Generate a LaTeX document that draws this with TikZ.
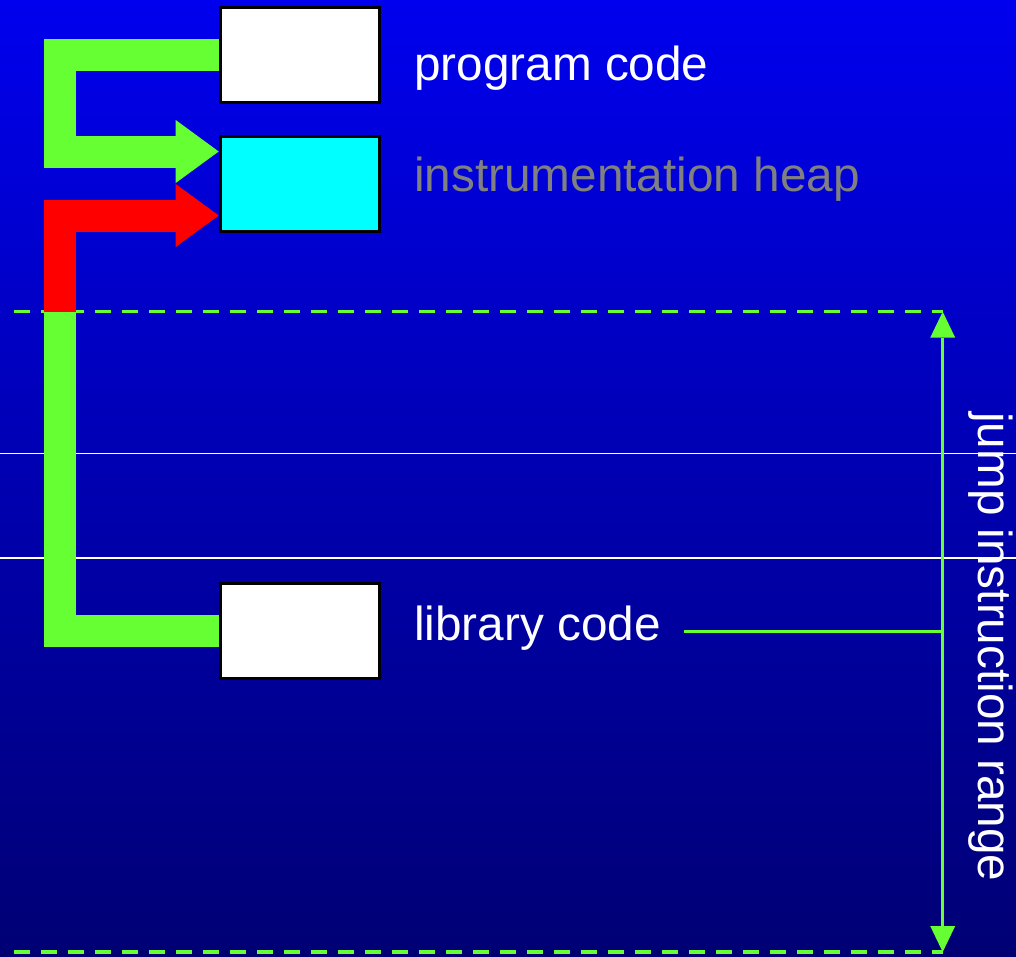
\documentclass[tikz,border=0pt]{standalone}
\usepackage{fontspec}
\setmainfont{Liberation Sans}
\usetikzlibrary{arrows.meta}
\definecolor{bgtop}{RGB}{0,0,238}
\definecolor{bgbot}{RGB}{0,0,116}
\definecolor{jgreen}{RGB}{102,255,51}
\definecolor{heapcyan}{RGB}{0,255,255}
\definecolor{heapgray}{RGB}{128,128,128}
\begin{document}
\begin{tikzpicture}[x=1pt,y=-1pt,
  memblock/.style={draw=black,line width=3pt,minimum width=159pt,minimum height=95pt,inner sep=0pt},
  txtlabel/.style={font=\fontsize{47.7pt}{57pt}\selectfont,inner sep=0pt,anchor=base west,text=white},
  band/.style={line width=32pt,line join=miter,line cap=butt},
  bandtip/.style={-{Triangle[length=43pt,width=63pt,line width=0pt]}},
  rangeline/.style={jgreen,line width=3.5pt},
  rangetip/.style={{Triangle[length=26pt,width=25pt,line width=0pt]}-{Triangle[length=26pt,width=25pt,line width=0pt]}},
  limitline/.style={jgreen,line width=3.5pt,dash pattern=on 16pt off 11pt},
  gridline/.style={white,line width=1.2pt}
]
% background
\useasboundingbox (0,0) rectangle (1016,956);
\shade[top color=bgtop,bottom color=bgbot] (0,0) rectangle (1016,956);

% thin white lines
\coordinate (g1L) at (0,453.3);
\coordinate (g1R) at (1016,453.3);
\coordinate (g2L) at (0,558);
\coordinate (g2R) at (1016,558);
\draw[gridline] (g1L) -- (g1R);
\draw[gridline] (g2L) -- (g2R);

% range limits
\coordinate (topL) at (14,311.7);
\coordinate (topR) at (942.7,311.7);
\coordinate (botL) at (14,952);
\coordinate (botR) at (942.7,952);
\draw[limitline] (topL) -- (topR);
\draw[limitline] (botL) -- (botR);

% memory blocks
\node[memblock,fill=white] (prog) at (299.7,55.2) {};
\node[memblock,fill=heapcyan] (heap) at (299.7,183.5) {};
\node[memblock,fill=white] (lib) at (299.7,631.4) {};

% thick connectors
\coordinate (leftrail) at (60,0);
\coordinate (split) at (60,311.7);
\coordinate (hin1) at ([yshift=32pt]heap.west);
\coordinate (hin2) at ([yshift=-32pt]heap.west);
\draw[band,jgreen] (lib.west) -- (lib.west -| leftrail) -- (split);
\draw[band,red,bandtip] (split) -- (hin2 -| leftrail) -- (hin2);
\draw[band,jgreen,bandtip] (prog.west) -- (prog.west -| leftrail) -- (hin1 -| leftrail) -- (hin1);
% redraw boxes' borders over band ends
\node[memblock,fill=white] at (prog) {};
\node[memblock,fill=heapcyan] at (heap) {};
\node[memblock,fill=white] at (lib) {};

% labels
\node[txtlabel] (progtxt) at (414,80) {program code};
\node[txtlabel,text=heapgray] (heaptxt) at (414,191.7) {instrumentation heap};
\node[txtlabel] (libtxt) at (414,640) {library code};
\node[txtlabel,rotate=-90] (jumptxt) at (978,412) {jump instruction range};

% range arrow and library pointer
\draw[rangeline,rangetip] (botR) -- (topR);
\coordinate (libstart) at (684,631.7);
\draw[rangeline] (libstart) -- (libstart -| topR);
\end{tikzpicture}
\end{document}
